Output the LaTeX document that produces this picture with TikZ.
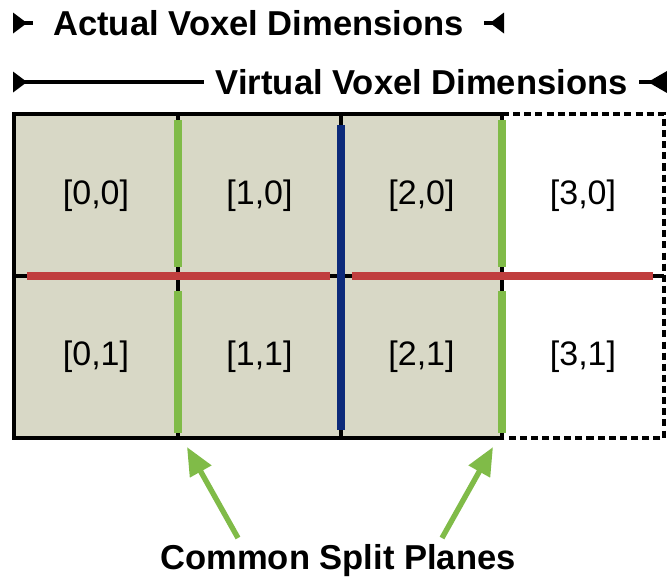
\documentclass[tikz,border=0pt]{standalone}
\usepackage{fontspec}
\setmainfont{Liberation Sans}
\usepackage{xcolor}
\usepackage{tikz}
\usetikzlibrary{arrows.meta, positioning, calc}
\definecolor{cellfill}{RGB}{216,216,198}
\definecolor{splitgreen}{RGB}{128,187,72}
\definecolor{splitblue}{RGB}{12,42,122}
\definecolor{splitred}{RGB}{192,62,62}

\begin{document}
\begin{tikzpicture}[x=0.03cm, y=-0.03cm,
    dimline/.style={line width=2.6pt},
    dimlabel/.style={fill=white, font=\bfseries\fontsize{29.5}{34}\selectfont, inner ysep=2pt},
    cell/.style={font=\fontsize{29}{34}\selectfont},
    gridline/.style={line width=2.6pt},
    plane/.style={line width=6pt},
    pointer/.style={splitgreen, line width=4.6pt, -{Triangle[length=24pt, width=20pt]}}]
\useasboundingbox (0,0) rectangle (667,585);

% Dimension lines
\coordinate (a1) at (13,23);
\coordinate (a2) at (504,23);
\coordinate (v1) at (13,82);
\coordinate (v2) at (667,82);
\draw[dimline] (a1) -- (a2) node[dimlabel, inner xsep=17pt, pos=0.5] (actual) {Actual Voxel Dimensions};
\draw[dimline] (v1) -- (v2) node[dimlabel, inner xsep=10pt, pos=0.625] (virtual) {Virtual Voxel Dimensions};
% end marks
\foreach \p in {a1, v1} {
    \fill (\p) ++(0,-10.5) -- ++(14,10.5) -- ++(-14,10.5) -- cycle;
}
\fill (a2) ++(0,-10.5) -- ++(-14,10.5) -- ++(14,10.5) -- cycle;
\fill (v2) ++(0,-11) -- ++(-19,11) -- ++(19,11) -- cycle;

% Voxel grid
\fill[cellfill] (14,114) rectangle (502,438);
\draw[gridline] (14,114) rectangle (502,438);
\draw[gridline, dash pattern=on 6pt off 3.5pt] (502,114) -- (664,114) -- (664,438) -- (502,438);
\foreach \x in {178, 341} {
    \draw[gridline] (\x,114) -- (\x,438);
}
\draw[gridline] (14,276) -- (664,276);

% Split planes
\foreach \x in {178, 502} {
    \draw[plane, splitgreen] (\x,120) -- (\x,267);
    \draw[plane, splitgreen] (\x,291) -- (\x,433);
}
\draw[plane, splitblue] (341,125) -- (341,430);
\draw[plane, splitred] (27,276) -- (330,276);
\draw[plane, splitred] (352,276) -- (653,276);

% Cell indices
\foreach \i/\x in {0/96, 1/259.5, 2/421.5, 3/583} {
    \foreach \j/\y in {0/196, 1/357} {
        \node[cell] (c\i\j) at (\x,\y) {[\i,\j]};
    }
}

% Common split planes
\node[font=\bfseries\fontsize{29.5}{34}\selectfont] (common) at (338,561) {Common Split Planes};
\coordinate (t1) at (238,538);
\coordinate (t2) at (442,538);
\coordinate (g1) at (187,447);
\coordinate (g2) at (493,447);
\draw[pointer] (t1) -- (g1);
\draw[pointer] (t2) -- (g2);
\end{tikzpicture}
\end{document}
